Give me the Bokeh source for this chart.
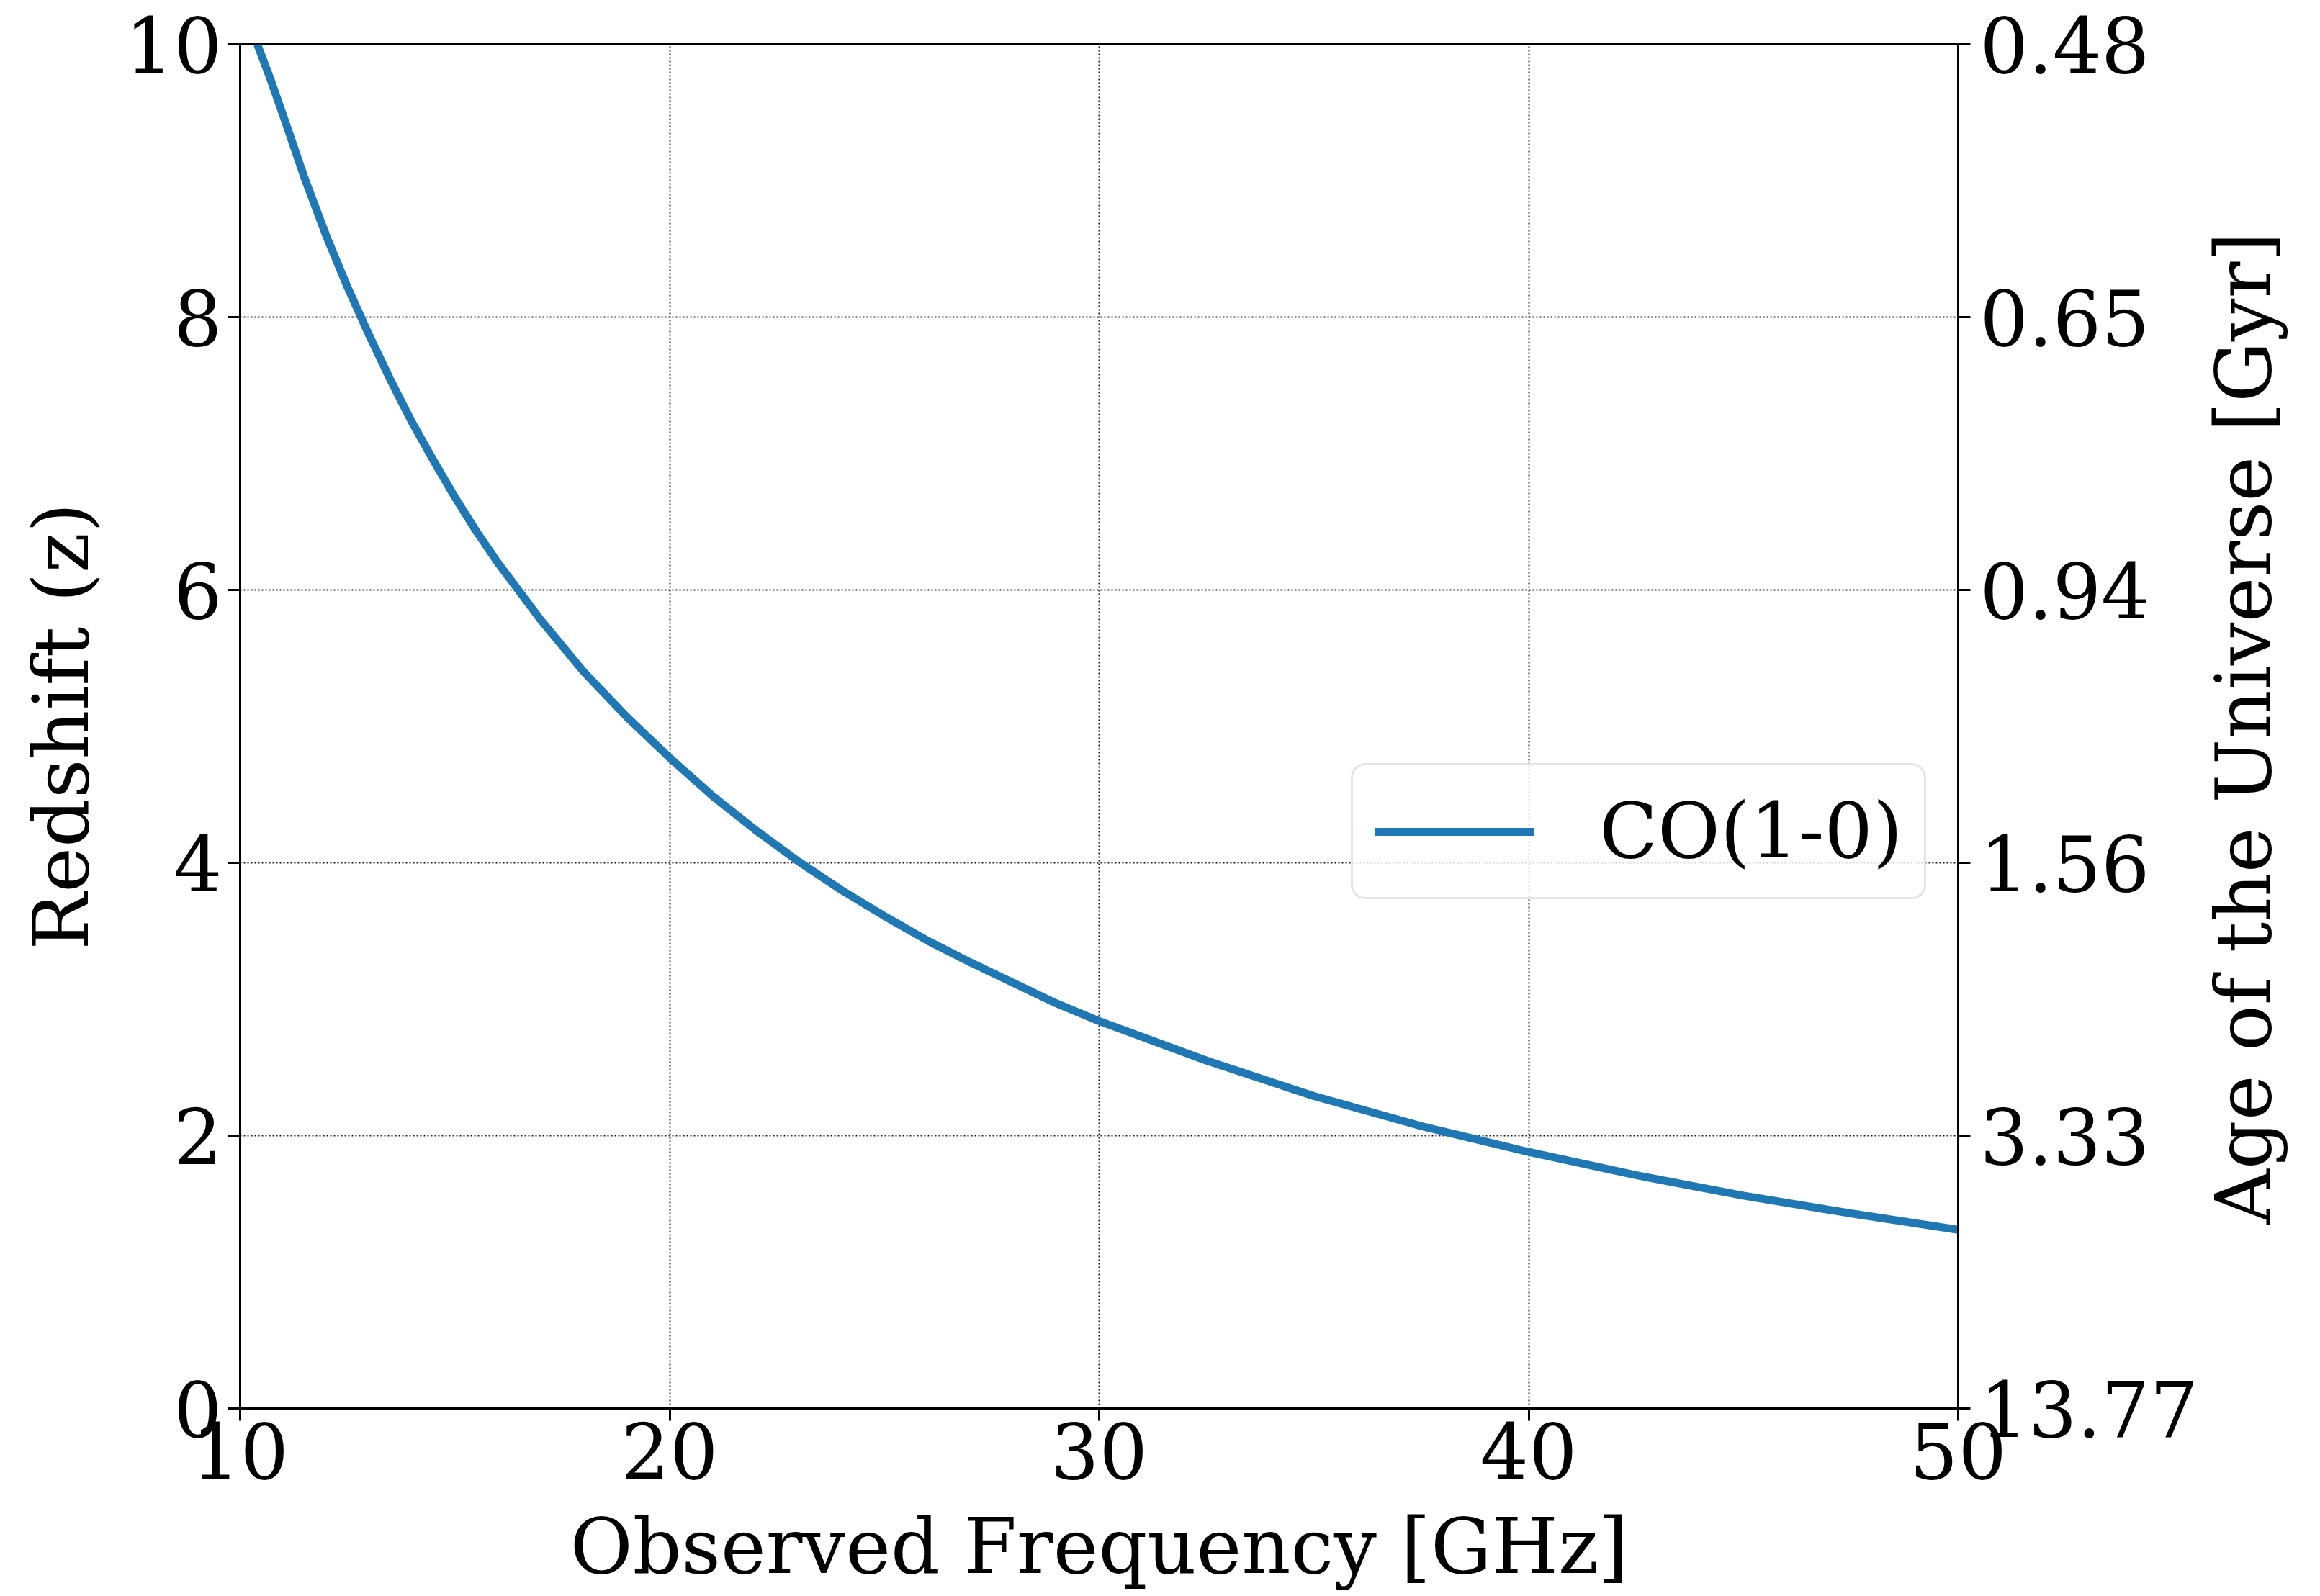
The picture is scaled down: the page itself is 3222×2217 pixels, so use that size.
import math
from bokeh.plotting import figure
from bokeh.models import LinearAxis, Legend, LegendItem, FixedTicker, Range1d, Label
from bokeh.embed import file_html
from bokeh.resources import INLINE

# Data
freq_ghz = [10.4, 10.7, 11.0, 11.5, 12.0, 12.5, 13.0, 13.5, 14.0, 14.5, 15.0, 15.5, 16.0, 17.0, 18.0, 19.0,
            20.0, 21.0, 22.0, 23.0, 24.0, 25.0, 26.0, 27.0, 28.0, 29.0, 30.0, 32.5, 35.0, 37.5,
            40.0, 42.5, 45.0, 47.5, 50.0]
redshift = [10.0, 9.75, 9.48, 9.02, 8.60, 8.22, 7.87, 7.54, 7.23, 6.95, 6.68, 6.43, 6.20, 5.78, 5.40, 5.07,
            4.77, 4.49, 4.24, 4.01, 3.80, 3.61, 3.43, 3.27, 3.12, 2.97, 2.84, 2.55, 2.29, 2.07,
            1.88, 1.71, 1.56, 1.43, 1.31]
series_name = "CO(1-0)"

x_ticks = [10, 20, 30, 40, 50]
y_ticks = [0, 2, 4, 6, 8, 10]
age_labels = ["13.77", "3.33", "1.56", "0.94", "0.65", "0.48"]

FONT = "DejaVu Serif"
FS = "106px"

W, H = 3214, 2212
BL, BR, BT, BB = 333, 495, 61, 256
FW, FH = W - BL - BR, H - BT - BB
X0, X1, Y0, Y1 = 10, 50, 0, 10

p = figure(width=W, height=H, output_backend="svg", toolbar_location=None,
           x_range=Range1d(X0, X1), y_range=Range1d(Y0, Y1),
           min_border_left=BL, min_border_right=BR, min_border_top=BT, min_border_bottom=BB,
           background_fill_color="white", border_fill_color="white")

p.outline_line_color = "black"
p.outline_line_width = 3

r = p.line(freq_ghz, redshift, line_width=11, line_color="#1f77b4")


def style_axis(ax):
    ax.major_label_text_font = FONT
    ax.major_label_text_font_size = FS
    ax.axis_label_text_font = FONT
    ax.axis_label_text_font_size = FS
    ax.axis_label_text_font_style = "normal"
    ax.axis_line_width = 3
    ax.axis_line_color = "black"
    ax.major_tick_line_width = 3
    ax.major_tick_line_color = "black"
    ax.major_tick_out = 17
    ax.major_tick_in = 0
    ax.minor_tick_line_color = None
    ax.axis_label_text_color = "black"
    ax.major_label_text_color = "black"


for ax in (p.xaxis[0], p.yaxis[0]):
    style_axis(ax)

p.xaxis[0].ticker = FixedTicker(ticks=x_ticks)
p.yaxis[0].ticker = FixedTicker(ticks=y_ticks)
p.xaxis[0].axis_label = "Observed Frequency [GHz]"
p.yaxis[0].axis_label = "Redshift (z)"
p.xaxis[0].major_label_standoff = 2
p.xaxis[0].axis_label_standoff = 30
p.yaxis[0].major_label_standoff = 8
p.yaxis[0].axis_label_standoff = 24

right = LinearAxis(ticker=FixedTicker(ticks=y_ticks),
                   major_label_overrides={t: lab for t, lab in zip(y_ticks, age_labels)})
style_axis(right)
right.major_label_standoff = 13
p.add_layout(right, "right")


# canvas pixel -> data coordinates (for the right-hand title annotation)
def cx(px):
    return X0 + (px - BL) * (X1 - X0) / FW


def cy(py):
    return Y0 + (BT + FH - py) * (Y1 - Y0) / FH


right_title = Label(x=cx(3116), y=cy(1011), text="Age of the Universe [Gyr]", angle=math.pi / 2,
                    text_font=FONT, text_font_size=FS, text_color="black",
                    text_align="center", text_baseline="middle")
p.add_layout(right_title, "right")

for g in (p.xgrid[0], p.ygrid[0]):
    g.grid_line_color = "black"
    g.grid_line_width = 2
    g.grid_line_dash = "2 3"
    g.grid_line_alpha = 0.9
p.xgrid[0].ticker = FixedTicker(ticks=x_ticks)
p.ygrid[0].ticker = FixedTicker(ticks=y_ticks)

legend = Legend(items=[LegendItem(label=series_name, renderers=[r])],
                location=(1543, 707),
                label_text_font=FONT, label_text_font_size=FS, label_text_color="black",
                glyph_width=222, glyph_height=60, label_standoff=90,
                padding=30, margin=0, spacing=0,
                border_line_color="#cccccc", border_line_width=3,
                background_fill_color="white", background_fill_alpha=0.8)
if "border_radius" in Legend.properties():
    legend.border_radius = 20
p.add_layout(legend, "center")

open("out.html", "w").write(file_html(p, INLINE))
